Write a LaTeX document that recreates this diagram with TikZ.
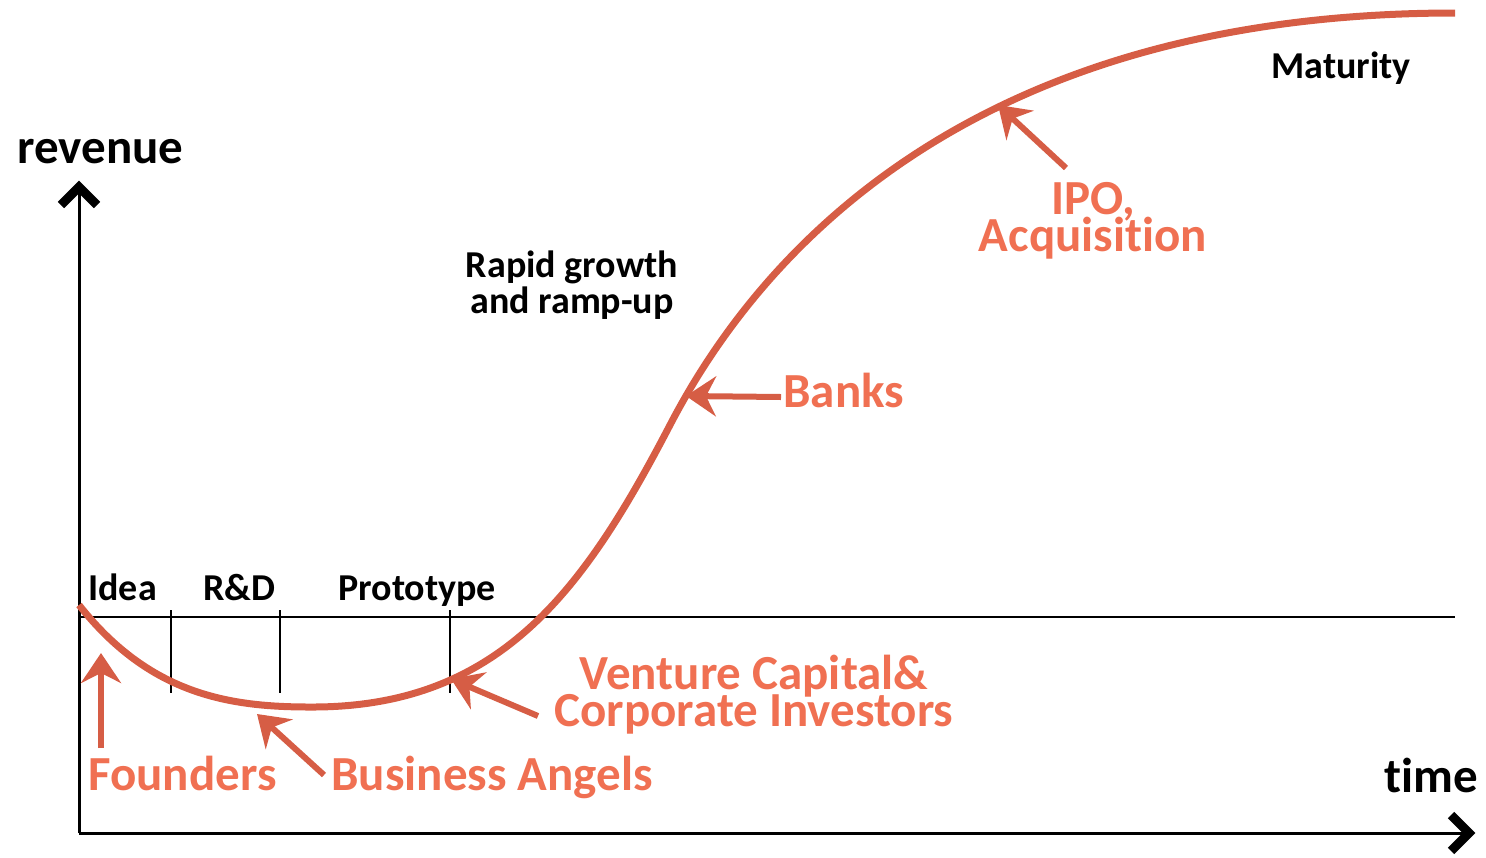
\documentclass[tikz,border=0pt]{standalone}
\usepackage{fontspec}
\setmainfont{Carlito}[Ligatures={NoCommon,NoContextual}]
\usetikzlibrary{arrows.meta, positioning}
\definecolor{curvered}{RGB}{214,93,69}
\definecolor{labelred}{RGB}{240,112,82}
\newcommand{\tightlines}{\lineskiplimit=-20pt\relax}

\begin{document}
\begin{tikzpicture}[
        x=0.5pt, y=-0.5pt,
        axis/.style={line width=1.5pt},
        chevron/.style={line width=4.5pt, miter limit=10},
        thinline/.style={line width=1pt},
        stage/.style={
            font=\bfseries\fontsize{19}{18}\selectfont,
            inner sep=0pt,
            anchor=base west
        },
        big/.style={
            font=\bfseries\fontsize{24.5}{18.5}\selectfont\tightlines,
            inner sep=0pt
        },
        funder/.style={big, text=labelred, anchor=base west},
        pointer/.style={
            curvered, line width=3pt,
            -{Stealth[length=15pt, width=20pt, inset=5pt]}
        }
    ]
        \useasboundingbox (0,0) rectangle (1486,857);

        % axes
        \coordinate (origin) at (79,833);
        \coordinate (ytop) at (79,187);
        \coordinate (xend) at (1469,833);
        \draw[axis] (origin) -- (ytop);
        \draw[axis] (origin) -- (xend);
        \draw[chevron] (ytop) ++(-18,18) -- ++(18,-18) -- ++(18,18);
        \draw[chevron] (xend) ++(-18,-18) -- ++(18,18) -- ++(-18,18);
        \node[big, anchor=base west] (revenue) at (17,163) {revenue};
        \node[big, anchor=base west] (time) at (1384,792) {t\kern0pt ime};

        % zero line and stages
        \coordinate (zeroL) at (79,617);
        \coordinate (zeroR) at (1455,617);
        \draw[thinline] (zeroL) -- (zeroR);
        \foreach \x in {171,280,450}
            \draw[thinline] (\x,610) -- (\x,693);
        \node[stage] (idea) at (88,600) {Idea};
        \node[stage] (rnd) at (203,600) {R\&D};
        \node[stage] (proto) at (338,600) {Prototype};
        \node[stage, anchor=center, align=center] (rapid) at (572,285) {Rapid growth\\and ramp-up};
        \node[stage] (maturity) at (1271,78) {Maturity};

        % revenue curve
        \draw[curvered, line width=3.5pt] (79,605)
            .. controls (150,695) and (230,707) .. (310,707)
            .. controls (500,708) and (584,590) .. (670,425)
            .. controls (774,225) and (1000,13) .. (1455,13);

        % sources of money
        \node[funder] (founders) at (88,790) {Founders};
        \node[funder] (angels) at (331,790) {Business Angels};
        \node[big, text=labelred, align=center] (venture) at (754,695) {Venture Capital\&\\Corporate Investors};
        \node[funder] (banks) at (783,407) {Banks};
        \node[big, text=labelred, align=center] (ipo) at (1093,221) {IPO,\\Acquisit\kern0pt ion};

        \coordinate (f0) at (101,748); \coordinate (f1) at (101,653);
        \coordinate (a0) at (324,775); \coordinate (a1) at (257,714);
        \coordinate (v0) at (538,716); \coordinate (v1) at (451,679);
        \coordinate (b0) at (781,397); \coordinate (b1) at (686,396);
        \coordinate (i0) at (1066,168); \coordinate (i1) at (998,105);
        \draw[pointer] (f0) -- (f1);
        \draw[pointer] (a0) -- (a1);
        \draw[pointer] (v0) -- (v1);
        \draw[pointer] (b0) -- (b1);
        \draw[pointer] (i0) -- (i1);
    \end{tikzpicture}
\end{document}
